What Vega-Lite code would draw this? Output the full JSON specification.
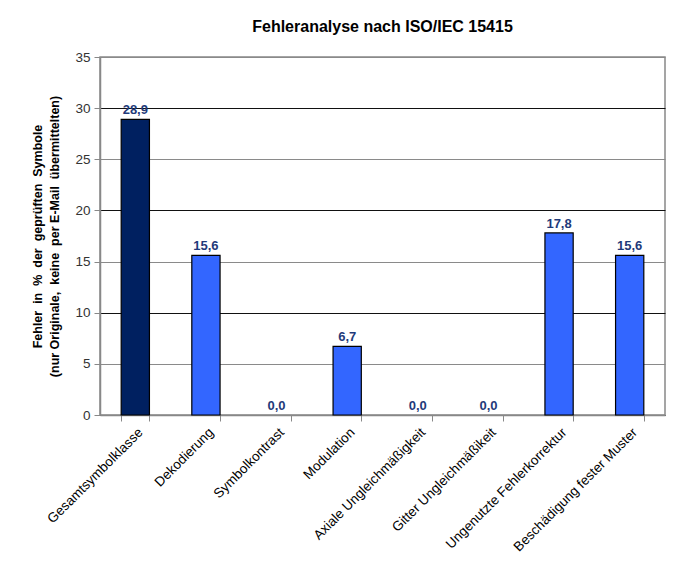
{
  "$schema": "https://vega.github.io/schema/vega-lite/v6.json",
  "width": 565,
  "height": 358,
  "autosize": {"type": "none"},
  "padding": {"left": 100, "top": 57, "right": 18, "bottom": 147},
  "background": "white",
  "config": {
    "font": "Liberation Sans",
    "locale": {"number": {"decimal": ",", "thousands": ".", "grouping": [3], "currency": ["", " €"]}},
    "view": {"stroke": "#888888", "strokeWidth": 1.5}
  },
  "title": {
    "text": "Fehleranalyse nach ISO/IEC 15415",
    "font": "Liberation Sans",
    "fontSize": 16,
    "fontWeight": "bold",
    "color": "#000000",
    "offset": 15
  },
  "data": {
    "values": [
      {"kategorie": "Gesamtsymbolklasse", "wert": 28.9, "gruppe": "gesamt"},
      {"kategorie": "Dekodierung", "wert": 15.6, "gruppe": "einzeln"},
      {"kategorie": "Symbolkontrast", "wert": 0.0, "gruppe": "einzeln"},
      {"kategorie": "Modulation", "wert": 6.7, "gruppe": "einzeln"},
      {"kategorie": "Axiale Ungleichmäßigkeit", "wert": 0.0, "gruppe": "einzeln"},
      {"kategorie": "Gitter Ungleichmäßikeit", "wert": 0.0, "gruppe": "einzeln"},
      {"kategorie": "Ungenutzte Fehlerkorrektur", "wert": 17.8, "gruppe": "einzeln"},
      {"kategorie": "Beschädigung fester Muster", "wert": 15.6, "gruppe": "einzeln"}
    ]
  },
  "encoding": {
    "x": {
      "field": "kategorie",
      "type": "nominal",
      "sort": null,
      "scale": {"paddingInner": 0.6, "paddingOuter": 0.3},
      "axis": {
        "title": null,
        "labelAngle": -45,
        "labelFontSize": 13.5,
        "labelColor": "#000000",
        "labelPadding": 4,
        "tickBand": "extent",
        "tickSize": 6,
        "tickColor": "#888888",
        "domainColor": "#888888",
        "domainWidth": 1.5,
        "grid": false
      }
    },
    "y": {
      "field": "wert",
      "type": "quantitative",
      "scale": {"domain": [0, 35], "nice": false},
      "axis": {
        "values": [0, 5, 10, 15, 20, 25, 30, 35],
        "title": ["Fehler\u00a0 in\u00a0 %\u00a0 der\u00a0 geprüften\u00a0 Symbole", "(nur Originale,\u00a0 keine\u00a0 per E-Mail\u00a0 übermittelten)"],
        "titleFontSize": 12.5,
        "titleFontWeight": "bold",
        "titleColor": "#000000",
        "titlePadding": 13,
        "titleLineHeight": 17,
        "labelFontSize": 13.5,
        "labelColor": "#333333",
        "labelPadding": 4,
        "tickSize": 6,
        "tickColor": "#888888",
        "domainColor": "#888888",
        "domainWidth": 1.5,
        "grid": true,
        "gridColor": {"condition": {"test": "datum.value % 10 === 0", "value": "#111111"}, "value": "#8a8a8a"},
        "gridWidth": 1.2
      }
    }
  },
  "layer": [
    {
      "mark": {"type": "bar", "stroke": "#000000", "strokeWidth": 1.2},
      "encoding": {
        "color": {
          "field": "gruppe",
          "type": "nominal",
          "scale": {"domain": ["gesamt", "einzeln"], "range": ["#002060", "#3366FF"]},
          "legend": null
        },
        "strokeOpacity": {"condition": {"test": "datum.wert > 0", "value": 1}, "value": 0}
      }
    },
    {
      "mark": {"type": "text", "dy": -9, "fontSize": 13, "fontWeight": "bold", "color": "#1F3A7A"},
      "encoding": {
        "text": {"field": "wert", "type": "quantitative", "format": ".1f"}
      }
    }
  ]
}
